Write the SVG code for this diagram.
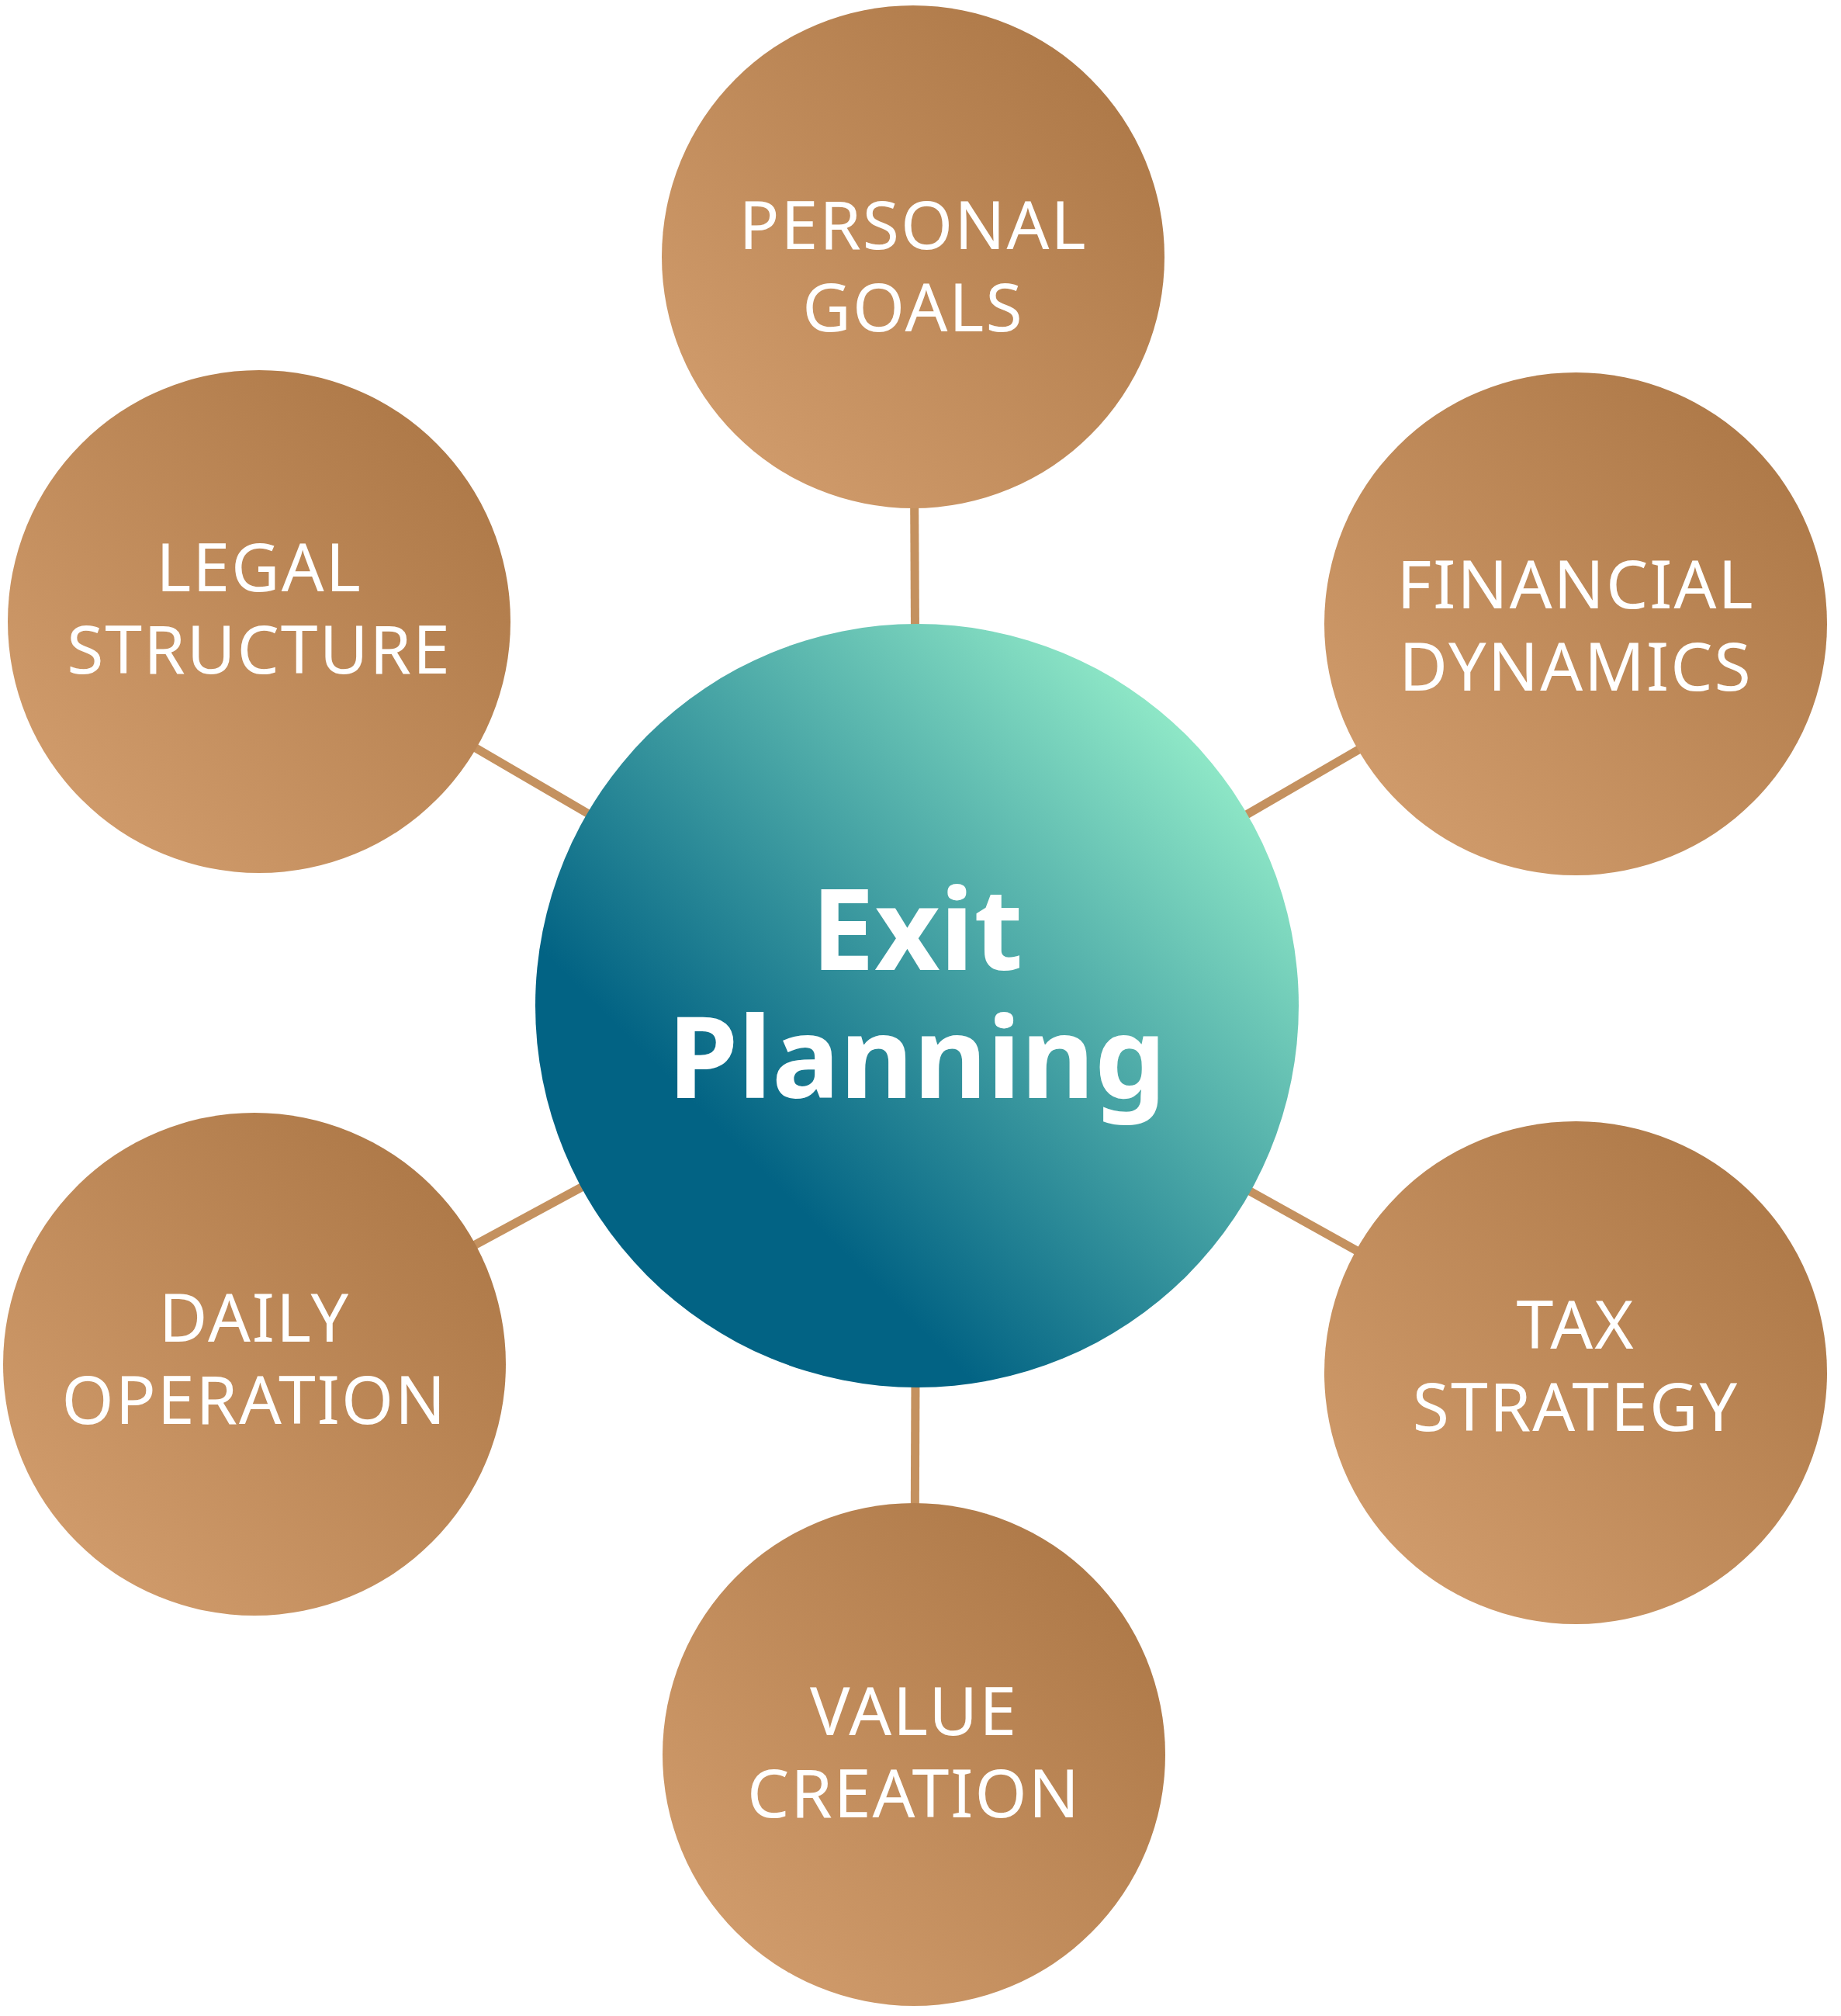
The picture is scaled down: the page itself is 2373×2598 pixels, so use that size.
<svg xmlns="http://www.w3.org/2000/svg" width="2373" height="2598" viewBox="0 0 2373 2598">
<defs>
<linearGradient id="gb" x1="0" y1="1" x2="1" y2="0"><stop offset="0.15" stop-color="#cf9a6a"/><stop offset="0.85" stop-color="#af7a49"/></linearGradient>
<linearGradient id="gc" x1="0.15" y1="0.85" x2="0.85" y2="0.15"><stop offset="0.2" stop-color="#026384"/><stop offset="1" stop-color="#8de6c6"/></linearGradient>
<style>
.n{fill:url(#gb)}
.t{fill:#fff;font-family:"Noto Sans","Open Sans",sans-serif;font-size:86px;letter-spacing:2px;text-anchor:middle}
.c{fill:#fff;font-family:"Noto Sans","Open Sans",sans-serif;font-size:146px;font-weight:bold;text-anchor:middle}
.l{stroke:#c4915f;stroke-width:11}
</style>
</defs>
<rect width="2373" height="2598" fill="#fff"/>
<g id="connectors">
<line class="l" x1="1182" y1="1296" x2="1177" y2="331"/>
<line class="l" x1="1182" y1="1296" x2="334" y2="801"/>
<line class="l" x1="1182" y1="1296" x2="2031" y2="804"/>
<line class="l" x1="1182" y1="1296" x2="328" y2="1758"/>
<line class="l" x1="1182" y1="1296" x2="2031" y2="1769"/>
<line class="l" x1="1182" y1="1296" x2="1178" y2="2261"/>
</g>
<g id="personal"><circle class="n" cx="1177" cy="331" r="324"/><text class="t" x="1177" y="321">PERSONAL</text><text class="t" x="1177" y="427">GOALS</text></g>
<g id="legal"><circle class="n" cx="334" cy="801" r="324"/><text class="t" x="334" y="762">LEGAL</text><text class="t" x="334" y="868">STRUCTURE</text></g>
<g id="financial"><circle class="n" cx="2031" cy="804" r="324"/><text class="t" x="2031" y="784">FINANCIAL</text><text class="t" x="2031" y="890">DYNAMICS</text></g>
<g id="daily"><circle class="n" cx="328" cy="1758" r="324"/><text class="t" x="328" y="1729">DAILY</text><text class="t" x="328" y="1835">OPERATION</text></g>
<g id="tax"><circle class="n" cx="2031" cy="1769" r="324"/><text class="t" x="2031" y="1738">TAX</text><text class="t" x="2031" y="1844">STRATEGY</text></g>
<g id="value"><circle class="n" cx="1178" cy="2261" r="324"/><text class="t" x="1178" y="2236">VALUE</text><text class="t" x="1178" y="2342">CREATION</text></g>
<g id="center"><circle cx="1182" cy="1296" r="492" fill="url(#gc)"/><text class="c" x="1182" y="1250">Exit</text><text class="c" x="1182" y="1415">Planning</text></g>
</svg>
